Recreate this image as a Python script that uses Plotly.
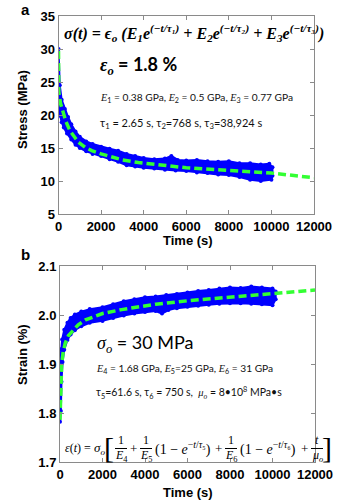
import plotly.graph_objects as go

W, H = 346, 504

# ---------------- Panel a : stress relaxation (epsilon_o = 1.8 %) ----------------
t_fit_a = [0, 15, 100, 200, 350, 540, 750, 930, 1250, 1560, 2000, 2500, 3000, 3750,
           5000, 6000, 8000, 10000, 12000]
stress_fit = [29.7, 23.5, 21.7, 20.4, 19.0, 17.6, 16.6, 15.9, 15.1, 14.6, 14.1, 13.6, 13.2, 12.8,
              12.3, 12.0, 11.6, 11.2, 10.5]

t_up_a = [0, 60, 150, 300, 450, 600, 800, 1000, 1300, 1600, 2000, 2400, 2800, 3200, 3600, 4000,
          4500, 5000, 5300, 5600, 6000, 6500, 7000, 7500, 8000, 8500, 9000, 9500, 9900, 10050]
stress_up = [30.0, 24.5, 22.3, 20.9, 19.7, 18.6, 17.5, 16.7, 16.0, 15.6, 15.2, 14.9, 14.6, 14.1, 13.8, 13.5,
             13.3, 13.4, 13.8, 13.2, 13.1, 13.2, 13.0, 12.9, 13.0, 12.7, 12.7, 12.5, 12.6, 12.1]
t_lo_a = [0, 80, 150, 250, 400, 600, 800, 1000, 1300, 1600, 2000, 2400, 2800, 3200, 3600, 4000,
          4500, 5000, 5500, 6000, 6500, 7000, 7500, 8000, 8500, 9000, 9500, 10000, 10050]
stress_lo = [20.8, 19.9, 18.9, 18.1, 17.2, 16.3, 15.5, 15.0, 14.5, 14.1, 13.8, 13.3, 12.9, 12.4, 12.2, 12.0,
             11.9, 11.7, 11.6, 11.5, 11.3, 11.2, 11.0, 10.9, 10.6, 10.2, 10.0, 10.2, 10.8]

# ---------------- Panel b : creep (sigma_o = 30 MPa) ----------------
t_fit_b = [0, 15, 40, 80, 150, 250, 400, 600, 860, 1200, 1650, 2000, 2900, 4500, 6000, 8000, 10000, 12000]
strain_fit = [1.786, 1.83, 1.87, 1.90, 1.925, 1.943, 1.958, 1.968, 1.980, 1.990, 1.998, 2.003, 2.011,
              2.022, 2.029, 2.036, 2.043, 2.051]

t_up_b = [0, 40, 100, 200, 350, 500, 700, 1000, 1400, 2000, 2500, 3000, 3500, 4000, 4500, 5000,
          5500, 6000, 6500, 7000, 7500, 8000, 8500, 9000, 9500, 10000, 10150]
strain_up = [1.900, 1.930, 1.950, 1.970, 1.984, 1.994, 2.001, 2.007, 2.012, 2.016, 2.022, 2.028, 2.032,
             2.036, 2.038, 2.041, 2.043, 2.046, 2.049, 2.051, 2.054, 2.056, 2.055, 2.058, 2.056, 2.054, 2.048]
t_lo_b = [0, 40, 70, 120, 200, 350, 500, 700, 1000, 1400, 2000, 2500, 3000, 3500, 4000, 4500, 4800,
          5100, 5500, 6000, 6500, 7000, 7500, 8000, 8500, 9000, 9500, 10000, 10150]
strain_lo = [1.782, 1.804, 1.864, 1.904, 1.929, 1.949, 1.960, 1.969, 1.977, 1.984, 1.988, 1.994, 1.999,
             2.003, 2.006, 2.008, 2.003, 2.010, 2.014, 2.017, 2.019, 2.021, 2.023, 2.024, 2.024, 2.023,
             2.022, 2.020, 2.032]

x_ticks = [0, 2000, 4000, 6000, 8000, 10000, 12000]
y_ticks_a = [5, 10, 15, 20, 25, 30, 35]
y_ticks_b = [1.7, 1.8, 1.9, 2.0, 2.1]

BLUE = "#0000ff"
GREEN = "#33ff33"
SERIF = "Liberation Serif"
SANS = "Lato"
ARIAL = "Liberation Sans"

fig = go.Figure()


def add_panel(t_up, y_up, t_lo, y_lo, t_fit, y_fit, xa, ya):
    fig.add_trace(go.Scatter(x=list(t_up) + list(t_lo)[::-1], y=list(y_up) + list(y_lo)[::-1],
                             mode="lines", fill="toself", fillcolor=BLUE,
                             line=dict(color=BLUE, width=2), xaxis=xa, yaxis=ya,
                             hoverinfo="skip", showlegend=False))
    fig.add_trace(go.Scatter(x=list(t_up) + list(t_lo), y=list(y_up) + list(y_lo), mode="markers",
                             marker=dict(color=BLUE, size=4), xaxis=xa, yaxis=ya, showlegend=False))
    fig.add_trace(go.Scatter(x=t_fit, y=y_fit, mode="lines",
                             line=dict(color=GREEN, width=3.5, dash="8px,4px"),
                             xaxis=xa, yaxis=ya, showlegend=False))


add_panel(t_up_a, stress_up, t_lo_a, stress_lo, t_fit_a, stress_fit, "x", "y")
add_panel(t_up_b, strain_up, t_lo_b, strain_lo, t_fit_b, strain_fit, "x2", "y2")

axis_common = dict(showgrid=False, zeroline=False, showline=True, linecolor="#8a8a8a", linewidth=1,
                   mirror="ticks", ticks="inside", ticklen=4, tickcolor="#8a8a8a",
                   tickfont=dict(family=ARIAL, size=13, color="black", weight="bold"),
                   automargin=False)

fig.update_layout(
    width=W, height=H, margin=dict(l=0, r=0, t=0, b=0),
    paper_bgcolor="white", plot_bgcolor="white", showlegend=False,
    xaxis=dict(domain=[58.5 / W, 314 / W], range=[0, 12000], tickvals=x_ticks, tickformat="d",
               anchor="y", **axis_common),
    yaxis=dict(domain=[1 - 214 / H, 1 - 16 / H], range=[5, 35], tickvals=y_ticks_a, anchor="x", **axis_common),
    xaxis2=dict(domain=[60 / W, 315 / W], range=[0, 12000], tickvals=x_ticks, tickformat="d",
                anchor="y2", **axis_common),
    yaxis2=dict(domain=[1 - 462 / H, 1 - 266 / H], range=[1.7, 2.1], tickvals=y_ticks_b,
                tickformat=".1f", anchor="x2", **axis_common),
)

annotations = []


def ann(text, x, y, size=12, family=SANS, xanchor="center", color="black", angle=0, weight="normal"):
    annotations.append(dict(text=text, x=x / W, y=1 - y / H, xref="paper", yref="paper",
                            xanchor=xanchor, yanchor="middle", showarrow=False, textangle=angle,
                            font=dict(family=family, size=size, color=color, weight=weight)))


# panel labels and axis titles
ann("<b>a</b>", 25, 9, size=15, family=ARIAL)
ann("<b>b</b>", 25, 254, size=15, family=ARIAL)
ann("<b>Time (s)</b>", 188, 240, size=13, family=ARIAL)
ann("<b>Time (s)</b>", 188, 492, size=13, family=ARIAL)
ann("<b>Stress (MPa)</b>", 22, 110, size=13, family=ARIAL, angle=-90)
ann("<b>Strain (%)</b>", 22, 355, size=13, family=ARIAL, angle=-90)

# panel a texts
ann("<b><i>σ(t) = ϵ<sub>o</sub> (E<sub>1</sub>e<sup>(−t/τ₁)</sup> + E<sub>2</sub>e<sup>(−t/τ₂)</sup>"
    " + E<sub>3</sub>e<sup>(−t/τ₃)</sup>)</i></b>", 62, 33, size=16, family=SERIF, xanchor="left")
ann("<span style='font-family:Liberation Serif'><b><i>ε<sub>o</sub></i></b></span><b> = 1.8 %</b>",
    98, 65, size=18, family=SANS, xanchor="left")
ann("<span style='font-family:Liberation Serif'><i>E</i></span><sub>1</sub> = 0.38 GPa, "
    "<span style='font-family:Liberation Serif'><i>E</i></span><sub>2</sub> = 0.5 GPa, "
    "<span style='font-family:Liberation Serif'><i>E</i></span><sub>3</sub> = 0.77 GPa",
    98, 98, size=10.2, family=SANS, xanchor="left", color="#111")
ann("τ<sub>1</sub> = 2.65 s, τ<sub>2</sub>=768 s, τ<sub>3</sub>=38,924 s", 98, 123, size=11,
    family=SANS, xanchor="left", color="#111")

# panel b texts
ann("<span style='font-family:Liberation Serif'><i>σ<sub>o</sub></i></span> = 30 MPa", 95, 343,
    size=18, family=SANS, xanchor="left")
ann("<span style='font-family:Liberation Serif'><i>E</i></span><sub>4</sub> = 1.68 GPa, "
    "<span style='font-family:Liberation Serif'><i>E</i></span><sub>5</sub>=25 GPa, "
    "<span style='font-family:Liberation Serif'><i>E</i></span><sub>6</sub> = 31 GPa",
    94, 369, size=10.2, family=SANS, xanchor="left", color="#111")
ann("τ<sub>5</sub>=61.6 s, τ<sub>6</sub> = 750 s,  "
    "<span style='font-family:Liberation Serif'><i>μ<sub>o</sub></i></span> = 8•10<sup>8</sup> MPa•s",
    94, 393, size=10.5, family=SANS, xanchor="left", color="#111")

# panel b creep equation (pieces)
EQ_Y = 448
ann("<i>ε</i>(<i>t</i>) =", 63, EQ_Y, size=12, family=SERIF, xanchor="left")
ann("<i>σ<sub>o</sub></i>", 99, EQ_Y, size=13, family=SERIF)
ann("[", 109, EQ_Y - 1, size=30, family=SERIF)
ann("]", 327, EQ_Y - 1, size=30, family=SERIF)
fractions = [("1", "<i>E</i><sub>4</sub>", 121), ("1", "<i>E</i><sub>5</sub>", 146),
             ("1", "<i>E</i><sub>6</sub>", 231), ("<i>t</i>", "<i>μ<sub>o</sub></i>", 317)]
shapes = []
for num, den, xc in fractions:
    ann(num, xc, EQ_Y - 8, size=12, family=SERIF)
    ann(den, xc, EQ_Y + 8, size=12, family=SERIF)
    shapes.append(dict(type="line", xref="paper", yref="paper", x0=(xc - 6) / W, x1=(xc + 6) / W,
                       y0=1 - (EQ_Y + 0.5) / H, y1=1 - (EQ_Y + 0.5) / H,
                       line=dict(color="black", width=1)))
for xc in (133, 218, 304):
    ann("+", xc, EQ_Y, size=13, family=SERIF)
ann("(1 − <i>e</i><sup>−<i>t</i>/<i>τ</i>₅</sup>)", 183, EQ_Y, size=14, family=SERIF)
ann("(1 − <i>e</i><sup>−<i>t</i>/<i>τ</i>₆</sup>)", 268, EQ_Y, size=14, family=SERIF)

fig.update_layout(annotations=annotations, shapes=shapes)

fig.write_html("out.html")
